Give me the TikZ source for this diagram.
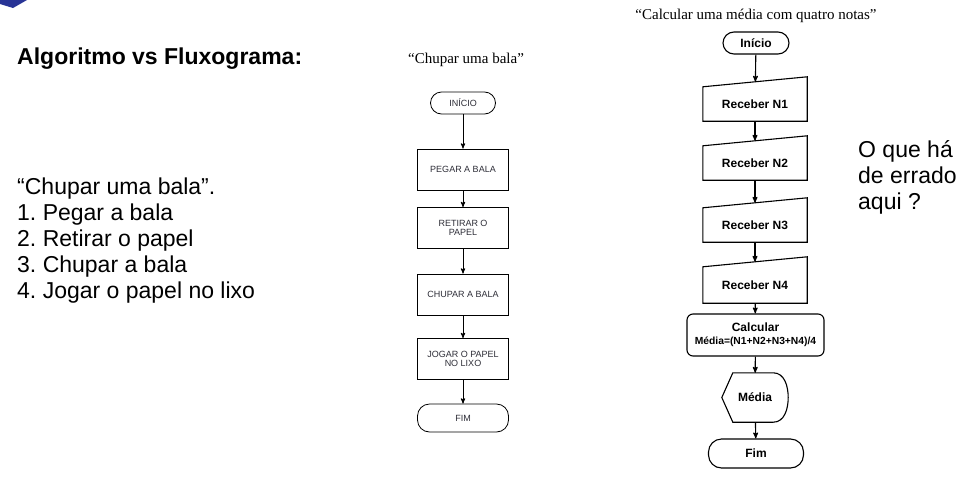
\documentclass[tikz,border=0pt]{standalone}
\usepackage{fontspec}
\setmainfont{Liberation Sans}
\newfontfamily\titlefont{Liberation Serif}
\usepackage{tikz}
\usetikzlibrary{arrows,positioning}
\definecolor{corner_blue}{RGB}{40,52,150}
\definecolor{box_gray}{RGB}{45,45,55}
\frenchspacing

\begin{document}
\begin{tikzpicture}[->,>=stealth',x=1pt,y=-1pt]
    \tikzstyle{txt}=[anchor=west, inner sep=0pt, align=left, font=\fontsize{23}{26}\selectfont]
    \tikzstyle{titulo}=[inner sep=0pt, font=\titlefont\fontsize{15}{17}\selectfont]
    \tikzstyle{term}=[draw=black, line width=0.8pt, rounded corners=11pt, minimum height=22pt, inner sep=0pt, font=\fontsize{9}{10}\selectfont, text=box_gray]
    \tikzstyle{caixa}=[draw=black, line width=0.8pt, minimum width=91pt, minimum height=41pt, inner sep=0pt, align=center, font=\fontsize{9}{10}\selectfont, text=box_gray]
    \tikzstyle{inicio}=[draw=black, line width=1.1pt, rounded corners=11pt, minimum height=22pt, inner sep=0pt, font=\bfseries\fontsize{12}{14}\selectfont]
    \tikzstyle{entrada}=[minimum width=104pt, minimum height=34pt, inner sep=0pt, font=\bfseries\fontsize{12}{14}\selectfont]
    \tikzstyle{seta}=[draw=black, line width=0.9pt]
    \tikzstyle{setab}=[draw=black, line width=1.1pt]

    \useasboundingbox (0,0) rectangle (961,490);
    \fill[corner_blue] (0,0) -- (27,0) -- (13,8) -- (0,4) -- cycle;

    % texto da esquerda
    \node[txt, font=\bfseries\fontsize{23}{26}\selectfont] (tit) at (17,59) {Algoritmo vs Fluxograma:};
    \node[txt] (lista) at (17,241) {“Chupar uma bala”.\\1. Pegar a bala\\2. Retirar o papel\\3. Chupar a bala\\4. Jogar o papel no lixo};
    \node[txt] (pergunta) at (858,177) {O que há\\de errado\\aqui ?};

    % fluxograma do meio
    \node[titulo] (titbala) at (466,60) {“Chupar uma bala”};
    \node[term, minimum width=65pt] (ini) at (463,103) {INÍCIO};
    \node[caixa] (pegar)   at (463,169.5) {PEGAR A BALA};
    \node[caixa] (retirar) at (463,228)   {RETIRAR O\\[-1pt]PAPEL};
    \node[caixa] (chupar)  at (463,294.5) {CHUPAR A BALA};
    \node[caixa] (jogar)   at (463,359)   {JOGAR O PAPEL\\[-1pt]NO LIXO};
    \node[term, minimum width=91pt, minimum height=28pt, rounded corners=12pt] (fim) at (463,418) {FIM};
    \path
     (ini) edge[seta] (pegar)
     (pegar) edge[seta] (retirar)
     (retirar) edge[seta] (chupar)
     (chupar) edge[seta] (jogar)
     (jogar) edge[seta] (fim)
     ;

    % fluxograma da direita
    \node[titulo] (titmedia) at (756,16) {“Calcular uma média com quatro notas”};
    \node[inicio, minimum width=66pt] (inicio) at (756,43) {Início};
    \node[entrada] (n1) at (755,104) {Receber N1};
    \node[entrada] (n2) at (755,163) {Receber N2};
    \node[entrada] (n3) at (755,225) {Receber N3};
    \node[entrada, minimum height=36pt] (n4) at (755,285) {Receber N4};
    \foreach \n in {n1,n2,n3,n4}
      \draw[-, line width=1.1pt] (\n.south west) -- (\n.south east) -- ([yshift=10pt]\n.north east) -- (\n.north west) -- cycle;
    \node[draw=black, line width=1.1pt, rounded corners=6pt, minimum width=137pt, minimum height=42pt, inner sep=0pt, align=center, font=\bfseries] (calc) at (755.5,335)
      {\fontsize{12}{14}\selectfont Calcular\\[1pt]\fontsize{10.3}{12}\selectfont Média=(N1+N2+N3+N4)/4};
    \node[minimum width=66pt, minimum height=49pt, inner sep=0pt, font=\bfseries\fontsize{12}{14}\selectfont] (media) at (755,397.5) {Média};
    \draw[-, line width=1.1pt] ([xshift=11pt]media.north west) -- ([xshift=-15pt]media.north east)
      to[out=0,in=90] (media.east) to[out=-90,in=0] ([xshift=-15pt]media.south east)
      -- ([xshift=11pt]media.south west) -- (media.west) -- cycle;
    \node[inicio, minimum width=95pt, minimum height=29pt, rounded corners=13pt] (fimb) at (756,453.5) {Fim};
    \path
     (inicio) edge[setab, shorten >=5pt] (n1)
     (n1) edge[setab, shorten >=5pt] (n2)
     (n2) edge[setab, shorten >=5pt] (n3)
     (n3) edge[setab, shorten >=5pt] (n4)
     (n4) edge[setab] (calc)
     (calc) edge[setab] (media)
     (media) edge[setab] (fimb)
     ;
\end{tikzpicture}
\end{document}
